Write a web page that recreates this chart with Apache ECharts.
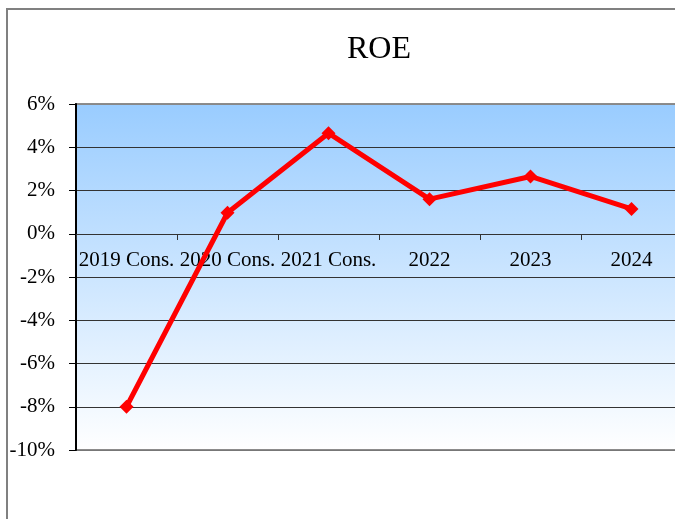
<!DOCTYPE html>
<html>
<head>
<meta charset="utf-8">
<script src="https://cdn.jsdelivr.net/npm/echarts@6/dist/echarts.min.js"></script>
<style>
html,body{margin:0;padding:0;background:#fff;overflow:hidden;width:675px;height:519px;}
#chart{width:690px;height:519px;}
</style>
</head>
<body>
<div id="chart"></div>
<script>
var categories = ['2019 Cons.', '2020 Cons.', '2021 Cons.', '2022', '2023', '2024'];
var roeValues = [-8.0, 0.97, 4.65, 1.6, 2.65, 1.15];
var yTicks = {min: -10, max: 6, interval: 2};
var titleText = 'ROE';

var serif = "'Liberation Serif', 'Times New Roman', serif";
var chart = echarts.init(document.getElementById('chart'), null, {renderer: 'canvas'});
chart.setOption({
  animation: false,
  backgroundColor: '#ffffff',
  title: {
    text: titleText,
    left: 342,
    top: 29,
    textStyle: {fontFamily: serif, fontSize: 32, fontWeight: 'normal', color: '#000'}
  },
  graphic: [{
    type: 'rect',
    shape: {x: 7, y: 9, width: 720, height: 600},
    style: {fill: 'none', stroke: '#808080', lineWidth: 2},
    silent: true,
    z: 100
  }],
  grid: {
    left: 76, top: 104, right: 8, bottom: 69,
    show: true,
    borderWidth: 2,
    borderColor: '#8c8c8c',
    backgroundColor: {
      type: 'linear', x: 0, y: 0, x2: 0, y2: 1,
      colorStops: [{offset: 0, color: '#99ccff'}, {offset: 1, color: '#ffffff'}]
    }
  },
  xAxis: {
    type: 'category',
    data: categories,
    boundaryGap: true,
    position: 'bottom',
    offset: -216,
    axisLine: {onZero: false, lineStyle: {color: '#333', width: 1}},
    axisTick: {show: true, length: 6, lineStyle: {color: '#333'}},
    axisLabel: {fontFamily: serif, fontSize: 21, color: '#000', margin: 16, interval: 0},
    splitLine: {show: false}
  },
  yAxis: {
    type: 'value',
    min: yTicks.min, max: yTicks.max, interval: yTicks.interval,
    axisLine: {show: true, lineStyle: {color: '#000', width: 2}},
    axisTick: {show: true, length: 7, lineStyle: {color: '#000'}},
    axisLabel: {fontFamily: serif, fontSize: 21, color: '#000', margin: 21, formatter: '{value}%'},
    splitLine: {show: true, lineStyle: {color: ['#777', '#333', '#333', '#333', '#333', '#333', '#333', '#333', '#888'], width: 1}}
  },
  series: [{
    type: 'line',
    data: roeValues,
    symbol: 'diamond',
    symbolSize: 14,
    lineStyle: {color: '#ff0000', width: 5},
    itemStyle: {color: '#ff0000'},
    z: 10
  }]
});
</script>
</body>
</html>
